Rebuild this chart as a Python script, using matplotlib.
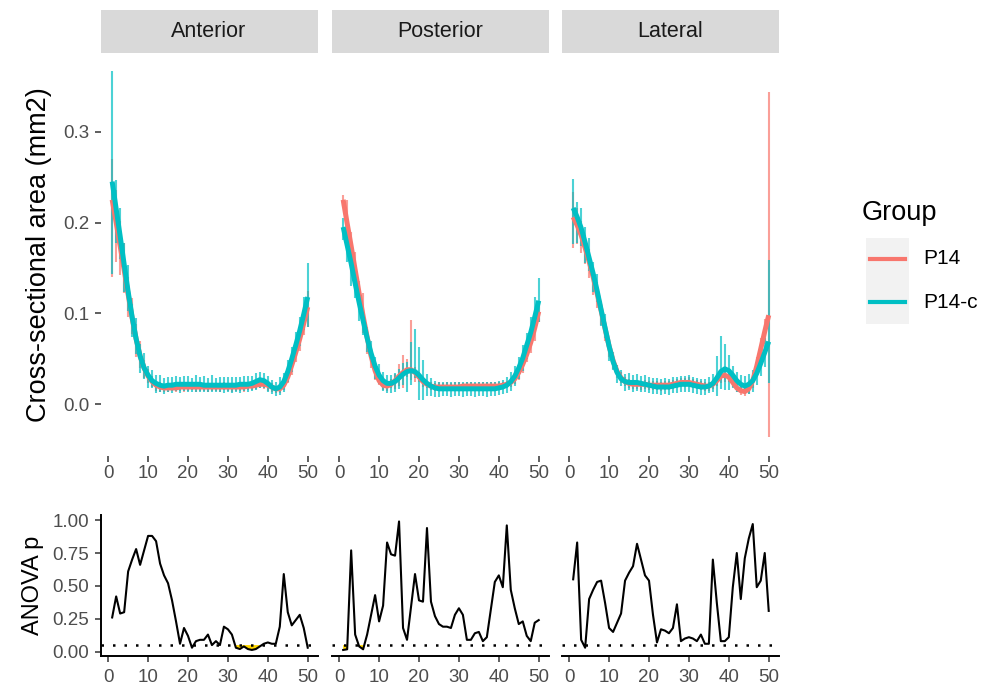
import numpy as np
import matplotlib
matplotlib.use("Agg")
import matplotlib.pyplot as plt
from matplotlib.patches import Rectangle
from matplotlib.lines import Line2D

plt.rcParams['font.family'] = ['Liberation Sans', 'DejaVu Sans']

# ---- data ----
position = np.arange(1, 51)
regions = ["Anterior", "Posterior", "Lateral"]
groups = ["P14", "P14-c"]
group_colors = ["#F8766D", "#00BFC4"]

# mean / sd per position, group P14
ant_p14_mean = [0.205, 0.196, 0.172, 0.150, 0.118, 0.097, 0.070, 0.055, 0.039, 0.031,
                0.025, 0.020, 0.019, 0.018, 0.018, 0.019, 0.017, 0.019, 0.018, 0.019,
                0.020, 0.018, 0.019, 0.019, 0.018, 0.019, 0.019, 0.018, 0.020, 0.019,
                0.018, 0.019, 0.019, 0.018, 0.020, 0.020, 0.021, 0.023, 0.022, 0.020,
                0.018, 0.016, 0.017, 0.022, 0.031, 0.042, 0.058, 0.071, 0.090, 0.105]
ant_p14_sd = [0.065, 0.040, 0.030, 0.028, 0.022, 0.020, 0.018, 0.015, 0.010, 0.008,
              0.006, 0.005, 0.005, 0.004, 0.004, 0.004, 0.004, 0.004, 0.004, 0.004,
              0.004, 0.004, 0.004, 0.004, 0.004, 0.004, 0.004, 0.004, 0.004, 0.004,
              0.004, 0.004, 0.004, 0.004, 0.004, 0.004, 0.004, 0.005, 0.005, 0.005,
              0.005, 0.004, 0.005, 0.006, 0.008, 0.010, 0.012, 0.012, 0.014, 0.020]
post_p14_mean = [0.224, 0.200, 0.170, 0.150, 0.120, 0.100, 0.070, 0.052, 0.035, 0.027,
                 0.021, 0.020, 0.023, 0.025, 0.032, 0.036, 0.040, 0.060, 0.033, 0.030,
                 0.024, 0.022, 0.020, 0.019, 0.020, 0.019, 0.020, 0.019, 0.020, 0.020,
                 0.019, 0.020, 0.020, 0.019, 0.020, 0.020, 0.020, 0.021, 0.020, 0.020,
                 0.021, 0.022, 0.024, 0.028, 0.035, 0.044, 0.056, 0.068, 0.084, 0.101]
post_p14_sd = [0.006, 0.025, 0.020, 0.018, 0.016, 0.022, 0.015, 0.012, 0.008, 0.006,
               0.005, 0.005, 0.005, 0.008, 0.012, 0.018, 0.010, 0.033, 0.008, 0.006,
               0.005, 0.004, 0.004, 0.004, 0.004, 0.004, 0.004, 0.004, 0.004, 0.004,
               0.004, 0.004, 0.004, 0.004, 0.004, 0.004, 0.004, 0.004, 0.004, 0.004,
               0.004, 0.004, 0.005, 0.006, 0.008, 0.010, 0.010, 0.012, 0.014, 0.010]
lat_p14_mean = [0.203, 0.196, 0.184, 0.170, 0.155, 0.135, 0.120, 0.100, 0.082, 0.062,
                0.047, 0.036, 0.029, 0.025, 0.023, 0.022, 0.022, 0.021, 0.022, 0.021,
                0.021, 0.021, 0.020, 0.021, 0.021, 0.022, 0.023, 0.024, 0.024, 0.025,
                0.023, 0.022, 0.021, 0.020, 0.020, 0.022, 0.026, 0.031, 0.032, 0.030,
                0.024, 0.018, 0.015, 0.014, 0.017, 0.026, 0.042, 0.061, 0.080, 0.154]
lat_p14_sd = [0.031, 0.020, 0.018, 0.016, 0.016, 0.015, 0.014, 0.013, 0.012, 0.010,
              0.008, 0.007, 0.006, 0.005, 0.005, 0.005, 0.005, 0.005, 0.005, 0.005,
              0.005, 0.005, 0.005, 0.005, 0.005, 0.005, 0.005, 0.005, 0.005, 0.005,
              0.005, 0.005, 0.005, 0.005, 0.005, 0.005, 0.006, 0.008, 0.007, 0.006,
              0.005, 0.005, 0.005, 0.005, 0.006, 0.008, 0.010, 0.012, 0.014, 0.190]

# mean / sd per position, group P14-c
ant_p14c_mean = [0.255, 0.212, 0.188, 0.150, 0.128, 0.092, 0.075, 0.050, 0.042, 0.030,
                 0.028, 0.022, 0.023, 0.020, 0.022, 0.021, 0.023, 0.021, 0.023, 0.022,
                 0.021, 0.023, 0.022, 0.022, 0.021, 0.023, 0.021, 0.022, 0.021, 0.022,
                 0.021, 0.022, 0.021, 0.023, 0.022, 0.023, 0.025, 0.027, 0.026, 0.022,
                 0.019, 0.017, 0.020, 0.024, 0.037, 0.049, 0.066, 0.080, 0.100, 0.120]
ant_p14c_sd = [0.112, 0.035, 0.028, 0.027, 0.025, 0.018, 0.020, 0.016, 0.014, 0.012,
               0.010, 0.010, 0.009, 0.009, 0.008, 0.009, 0.008, 0.009, 0.008, 0.009,
               0.008, 0.009, 0.008, 0.009, 0.008, 0.009, 0.008, 0.008, 0.009, 0.008,
               0.009, 0.008, 0.009, 0.008, 0.009, 0.008, 0.009, 0.009, 0.008, 0.009,
               0.008, 0.008, 0.010, 0.010, 0.012, 0.014, 0.013, 0.016, 0.018, 0.035]
post_p14c_mean = [0.193, 0.178, 0.150, 0.135, 0.108, 0.090, 0.070, 0.058, 0.040, 0.033,
                  0.025, 0.022, 0.022, 0.024, 0.028, 0.033, 0.030, 0.045, 0.056, 0.034,
                  0.027, 0.021, 0.019, 0.017, 0.016, 0.017, 0.017, 0.016, 0.017, 0.017,
                  0.016, 0.017, 0.017, 0.016, 0.017, 0.017, 0.016, 0.017, 0.017, 0.018,
                  0.019, 0.021, 0.025, 0.031, 0.040, 0.051, 0.064, 0.080, 0.098, 0.115]
post_p14c_sd = [0.012, 0.022, 0.020, 0.018, 0.016, 0.014, 0.012, 0.012, 0.012, 0.011,
                0.010, 0.010, 0.010, 0.010, 0.011, 0.012, 0.016, 0.024, 0.027, 0.029,
                0.022, 0.012, 0.010, 0.009, 0.008, 0.008, 0.008, 0.008, 0.008, 0.008,
                0.008, 0.008, 0.008, 0.008, 0.008, 0.008, 0.008, 0.008, 0.008, 0.008,
                0.008, 0.009, 0.010, 0.011, 0.012, 0.014, 0.014, 0.016, 0.020, 0.024]
lat_p14c_mean = [0.212, 0.200, 0.195, 0.175, 0.165, 0.140, 0.128, 0.100, 0.086, 0.060,
                 0.048, 0.033, 0.029, 0.024, 0.025, 0.023, 0.024, 0.022, 0.023, 0.021,
                 0.020, 0.020, 0.019, 0.020, 0.019, 0.021, 0.021, 0.022, 0.022, 0.023,
                 0.021, 0.020, 0.019, 0.019, 0.021, 0.023, 0.031, 0.046, 0.041, 0.035,
                 0.030, 0.025, 0.022, 0.021, 0.022, 0.026, 0.034, 0.045, 0.057, 0.091]
lat_p14c_sd = [0.036, 0.023, 0.021, 0.020, 0.018, 0.016, 0.015, 0.014, 0.013, 0.012,
               0.010, 0.010, 0.009, 0.009, 0.009, 0.009, 0.009, 0.009, 0.009, 0.009,
               0.009, 0.009, 0.009, 0.009, 0.009, 0.009, 0.009, 0.009, 0.009, 0.009,
               0.009, 0.009, 0.009, 0.009, 0.009, 0.010, 0.022, 0.029, 0.025, 0.019,
               0.012, 0.011, 0.010, 0.010, 0.011, 0.012, 0.013, 0.014, 0.016, 0.068]

# smoothed trend per group
ant_p14_fit = [0.225, 0.200, 0.174, 0.148, 0.121, 0.095, 0.072, 0.053, 0.040, 0.031,
               0.025, 0.021, 0.019, 0.018, 0.018, 0.018, 0.018, 0.019, 0.019, 0.019,
               0.019, 0.019, 0.019, 0.019, 0.019, 0.019, 0.019, 0.019, 0.019, 0.019,
               0.019, 0.019, 0.019, 0.019, 0.020, 0.020, 0.021, 0.022, 0.022, 0.021,
               0.019, 0.017, 0.017, 0.021, 0.030, 0.043, 0.057, 0.072, 0.089, 0.107]
ant_p14c_fit = [0.245, 0.215, 0.185, 0.154, 0.124, 0.096, 0.072, 0.053, 0.040, 0.032,
                0.026, 0.023, 0.021, 0.020, 0.021, 0.021, 0.022, 0.022, 0.022, 0.022,
                0.022, 0.022, 0.022, 0.021, 0.021, 0.021, 0.021, 0.021, 0.021, 0.021,
                0.021, 0.021, 0.022, 0.022, 0.022, 0.023, 0.025, 0.027, 0.026, 0.023,
                0.019, 0.017, 0.019, 0.025, 0.036, 0.050, 0.065, 0.081, 0.099, 0.118]
post_p14_fit = [0.225, 0.199, 0.174, 0.148, 0.122, 0.097, 0.074, 0.053, 0.037, 0.026,
                0.021, 0.020, 0.022, 0.026, 0.031, 0.035, 0.038, 0.038, 0.035, 0.030,
                0.025, 0.022, 0.020, 0.019, 0.019, 0.019, 0.019, 0.019, 0.019, 0.019,
                0.020, 0.020, 0.020, 0.020, 0.020, 0.020, 0.020, 0.020, 0.020, 0.020,
                0.021, 0.022, 0.024, 0.028, 0.035, 0.044, 0.055, 0.068, 0.084, 0.102]
post_p14c_fit = [0.195, 0.175, 0.155, 0.133, 0.112, 0.092, 0.073, 0.056, 0.042, 0.032,
                 0.026, 0.023, 0.023, 0.025, 0.029, 0.033, 0.036, 0.037, 0.036, 0.032,
                 0.027, 0.023, 0.020, 0.018, 0.017, 0.017, 0.017, 0.017, 0.017, 0.017,
                 0.017, 0.017, 0.017, 0.017, 0.017, 0.017, 0.017, 0.017, 0.017, 0.018,
                 0.019, 0.021, 0.025, 0.031, 0.040, 0.051, 0.065, 0.079, 0.096, 0.114]
lat_p14_fit = [0.206, 0.197, 0.186, 0.172, 0.157, 0.140, 0.122, 0.103, 0.083, 0.064,
               0.048, 0.036, 0.029, 0.025, 0.023, 0.022, 0.022, 0.022, 0.022, 0.021,
               0.021, 0.021, 0.021, 0.021, 0.021, 0.022, 0.023, 0.024, 0.024, 0.024,
               0.023, 0.022, 0.021, 0.020, 0.020, 0.022, 0.026, 0.031, 0.032, 0.030,
               0.024, 0.018, 0.015, 0.014, 0.017, 0.026, 0.042, 0.061, 0.080, 0.098]
lat_p14c_fit = [0.216, 0.206, 0.194, 0.178, 0.161, 0.144, 0.125, 0.104, 0.084, 0.064,
                0.047, 0.035, 0.028, 0.025, 0.024, 0.024, 0.024, 0.023, 0.022, 0.021,
                0.020, 0.019, 0.019, 0.019, 0.019, 0.020, 0.021, 0.022, 0.022, 0.022,
                0.021, 0.020, 0.019, 0.019, 0.020, 0.023, 0.029, 0.036, 0.039, 0.037,
                0.032, 0.026, 0.022, 0.020, 0.022, 0.026, 0.034, 0.045, 0.057, 0.069]

# ANOVA p-values per position
ant_p = [0.26, 0.42, 0.29, 0.30, 0.61, 0.70, 0.78, 0.66, 0.77, 0.88,
         0.88, 0.84, 0.67, 0.58, 0.52, 0.39, 0.23, 0.06, 0.18, 0.12,
         0.03, 0.08, 0.09, 0.09, 0.13, 0.05, 0.08, 0.05, 0.19, 0.17,
         0.13, 0.03, 0.02, 0.04, 0.02, 0.013, 0.02, 0.04, 0.06, 0.07,
         0.06, 0.06, 0.19, 0.59, 0.30, 0.20, 0.24, 0.28, 0.18, 0.03]
post_p = [0.013, 0.018, 0.77, 0.13, 0.04, 0.018, 0.13, 0.28, 0.43, 0.23,
          0.35, 0.83, 0.74, 0.73, 0.99, 0.18, 0.09, 0.34, 0.59, 0.39,
          0.38, 0.94, 0.38, 0.27, 0.21, 0.19, 0.19, 0.18, 0.28, 0.33,
          0.28, 0.09, 0.09, 0.14, 0.15, 0.08, 0.11, 0.32, 0.53, 0.58,
          0.49, 0.96, 0.47, 0.33, 0.21, 0.23, 0.12, 0.08, 0.22, 0.24]
lat_p = [0.55, 0.83, 0.09, 0.03, 0.40, 0.47, 0.53, 0.54, 0.37, 0.18,
         0.15, 0.22, 0.29, 0.54, 0.60, 0.65, 0.82, 0.70, 0.58, 0.54,
         0.28, 0.07, 0.17, 0.16, 0.14, 0.18, 0.36, 0.08, 0.10, 0.11,
         0.10, 0.08, 0.13, 0.06, 0.06, 0.70, 0.37, 0.08, 0.08, 0.11,
         0.49, 0.75, 0.40, 0.71, 0.86, 0.97, 0.49, 0.54, 0.75, 0.31]
p_cut = 0.05

means = {"Anterior": (ant_p14_mean, ant_p14c_mean),
         "Posterior": (post_p14_mean, post_p14c_mean),
         "Lateral": (lat_p14_mean, lat_p14c_mean)}
sds = {"Anterior": (ant_p14_sd, ant_p14c_sd),
       "Posterior": (post_p14_sd, post_p14c_sd),
       "Lateral": (lat_p14_sd, lat_p14c_sd)}
fits = {"Anterior": (ant_p14_fit, ant_p14c_fit),
        "Posterior": (post_p14_fit, post_p14c_fit),
        "Lateral": (lat_p14_fit, lat_p14c_fit)}
pvals = {"Anterior": ant_p, "Posterior": post_p, "Lateral": lat_p}

# ---- layout (pixel boxes) ----
W, H = 986, 691
fig = plt.figure(figsize=(W / 100, H / 100), dpi=100)


def px_axes(l, t, r, b):
    return fig.add_axes([l / W, 1 - b / H, (r - l) / W, (b - t) / H])


panel_x = [(100.6, 317.5), (331.6, 548.5), (561.6, 778.5)]
XLIM = (-1.9, 52.45)
TICK_COL, LAB_COL = "#333333", "#4D4D4D"
TICK_FS = 13.5

for i, reg in enumerate(regions):
    l, r = panel_x[i]

    # strip
    sax = px_axes(l, 10, r, 52.5)
    sax.set_facecolor("#D9D9D9")
    sax.set_xticks([]); sax.set_yticks([])
    for s in sax.spines.values():
        s.set_visible(False)
    sax.text(0.5, 0.5, reg, ha="center", va="center", fontsize=15.5,
             color="#1A1A1A", transform=sax.transAxes)

    # top panel: error bars + smooth
    ax = px_axes(l, 53, r, 456)
    for g in range(2):
        m = np.array(means[reg][g]); s = np.array(sds[reg][g])
        ax.vlines(position, m - s, m + s, color=group_colors[g], alpha=0.7, lw=1.5)
    for g in range(2):
        ax.plot(position, fits[reg][g], color=group_colors[g], lw=3.6,
                solid_capstyle="butt")
    ax.set_xlim(*XLIM)
    ax.set_ylim(-0.0569, 0.3865)
    ax.set_xticks([0, 10, 20, 30, 40, 50])
    ax.set_yticks([0.0, 0.1, 0.2, 0.3])
    for s in ax.spines.values():
        s.set_visible(False)
    ax.tick_params(colors=TICK_COL, labelcolor=LAB_COL, labelsize=TICK_FS,
                   length=4, width=1.1)
    ax.tick_params(axis="x", pad=2.5)
    ax.tick_params(axis="y", pad=4)
    if i == 0:
        ax.set_yticklabels(["0.0", "0.1", "0.2", "0.3"])
        ax.set_ylabel("Cross-sectional area (mm2)", fontsize=19.5, color="black",
                      labelpad=8)
    else:
        ax.tick_params(axis="y", left=False, labelleft=False)

    # bottom panel: ANOVA p
    bx = px_axes(l, 515, r, 656.4)
    p = np.array(pvals[reg])
    bx.fill_between(position, p, p_cut, where=p < p_cut, color="#FFD700",
                    lw=0, interpolate=False)
    bx.axhline(p_cut, color="black", lw=1.8, linestyle=(0, (1, 3.6)))
    bx.plot(position, p, color="black", lw=1.5)
    bx.set_xlim(*XLIM)
    bx.set_ylim(-0.036, 1.039)
    bx.set_xticks([0, 10, 20, 30, 40, 50])
    bx.set_yticks([0.0, 0.25, 0.5, 0.75, 1.0])
    for side in ("top", "right"):
        bx.spines[side].set_visible(False)
    bx.spines["bottom"].set_linewidth(1.4)
    bx.spines["left"].set_linewidth(1.4)
    bx.tick_params(colors=TICK_COL, labelcolor=LAB_COL, labelsize=TICK_FS,
                   length=4, width=1.1)
    bx.tick_params(axis="x", pad=5)
    bx.tick_params(axis="y", pad=4)
    if i == 0:
        bx.set_yticklabels(["0.00", "0.25", "0.50", "0.75", "1.00"])
        bx.set_ylabel("ANOVA p", fontsize=17, color="black", labelpad=6)
    else:
        bx.spines["left"].set_visible(False)
        bx.tick_params(axis="y", left=False, labelleft=False)

# ---- legend ----
fig.text(862 / W, 1 - 213 / H, "Group", fontsize=19.5, va="center", ha="left")
fig.patches.append(Rectangle((866 / W, 1 - 324 / H), 43 / W, 86 / H,
                             transform=fig.transFigure, facecolor="#F2F2F2",
                             edgecolor="none"))
for k, (g, y) in enumerate(zip(groups, [259, 302])):
    fig.lines.append(Line2D([870 / W, 905 / W], [1 - y / H, 1 - y / H],
                            transform=fig.transFigure, color=group_colors[k], lw=3.0))
    fig.text(923 / W, 1 - y / H, g, fontsize=15, va="center", ha="left")

fig.savefig("out.png", dpi=100)
